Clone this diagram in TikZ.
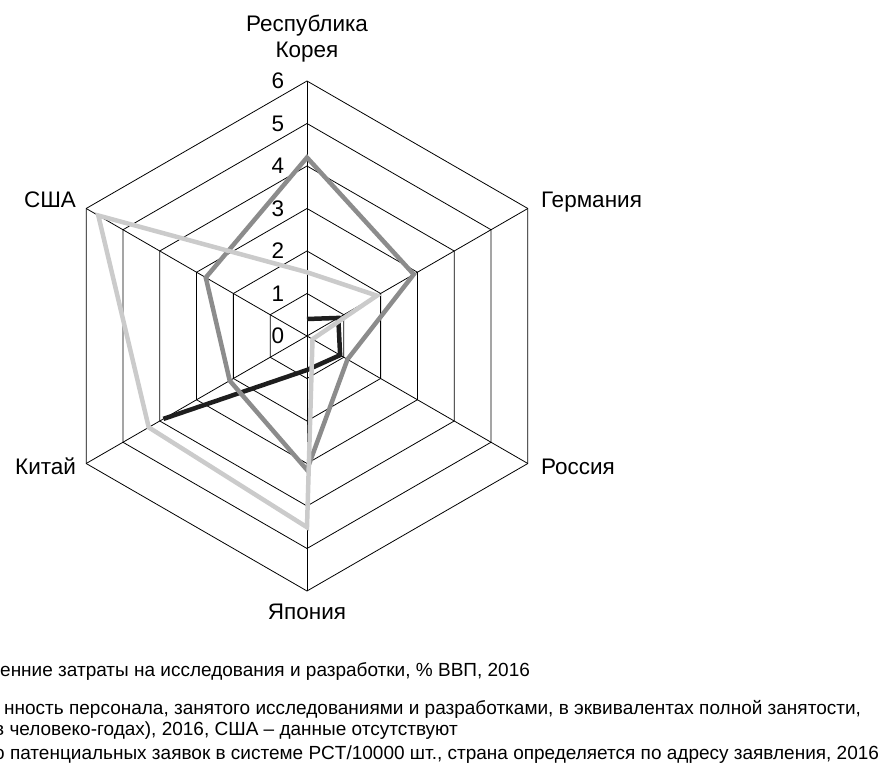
\documentclass[tikz,border=0pt]{standalone}
\usepackage{fontspec}
\setmainfont{Liberation Sans}
\definecolor{cinzaescuro}{HTML}{8C8C8C}
\definecolor{cinzaclaro}{HTML}{CBCBCB}
\definecolor{quasepreto}{HTML}{1E1E1E}
\begin{document}
\begin{tikzpicture}[x=42.5pt, y=42.5pt,
    grade/.style={line width=0.8pt},
    serie/.style={line width=4.5pt, line join=miter},
    rotulo/.style={font=\fontsize{22.5}{26}\selectfont, inner sep=0pt},
    legenda/.style={font=\fontsize{19}{21}\selectfont, anchor=base west, inner sep=0pt}]
    \useasboundingbox (-307pt,-432pt) rectangle (572pt,336pt);

    % Grade hexagonal
    \foreach \r in {1,...,6}
        \draw[grade] (90:\r) -- (30:\r) -- (-30:\r) -- (-90:\r) -- (-150:\r) -- (150:\r) -- cycle; % Aneis 1 a 6
    \foreach \a in {90,30,-30,-90,-150,150}
        \draw[grade] (0,0) -- (\a:6); % Eixos

    % Numeros do eixo
    \foreach \r in {0,...,6}
        \node[rotulo] (n\r) at (-29pt,\r) {\r};

    % Series
    \draw[serie, quasepreto] (90:0.4) -- (30:0.85) -- (-30:0.9) -- (-90:0.8) -- (-150:3.9); % Pessoal (sem EUA)
    \draw[serie, cinzaescuro] (90:4.2) -- (30:2.9) -- (-30:1.1) -- (-90:3.15) -- (-150:2.1) -- (150:2.75) -- cycle; % Gastos
    \draw[serie, cinzaclaro] (90:1.5) -- (30:1.9) -- (-30:0.15) -- (-90:4.5) -- (-150:4.3) -- (150:5.67) -- cycle; % Patentes

    % Rotulos dos paises
    \node[rotulo, align=center, anchor=south] (coreia) at (0,6.44) {Республика\\Корея};
    \node[rotulo, anchor=base west] (alemanha) at ([shift={(13pt,1pt)}]30:6) {Германия};
    \node[rotulo, anchor=base west] (russia) at ([shift={(13pt,-11pt)}]-30:6) {Россия};
    \node[rotulo, anchor=base] (japao) at ([shift={(0pt,-28.5pt)}]-90:6) {Япония};
    \node[rotulo, anchor=base east] (china) at ([shift={(-10pt,-11pt)}]-150:6) {Китай};
    \node[rotulo, anchor=base east] (eua) at ([shift={(-10pt,1pt)}]150:6) {США};

    % Legenda
    \node[legenda] (leg1) at (-307pt,-340pt) {енние затраты на исследования и разработки, \% ВВП, 2016};
    \node[legenda] (leg2) at (-303pt,-378pt) {нность персонала, занятого исследованиями и разработками, в эквивалентах полной занятости,};
    \node[legenda] (leg3) at (-313pt,-399pt) {в человеко-годах), 2016, США – данные отсутствуют};
    \node[legenda] (leg4) at (-313pt,-423pt) {о патенциальных заявок в системе PCT/10000 шт., страна определяется по адресу заявления, 2016};
\end{tikzpicture}
\end{document}
